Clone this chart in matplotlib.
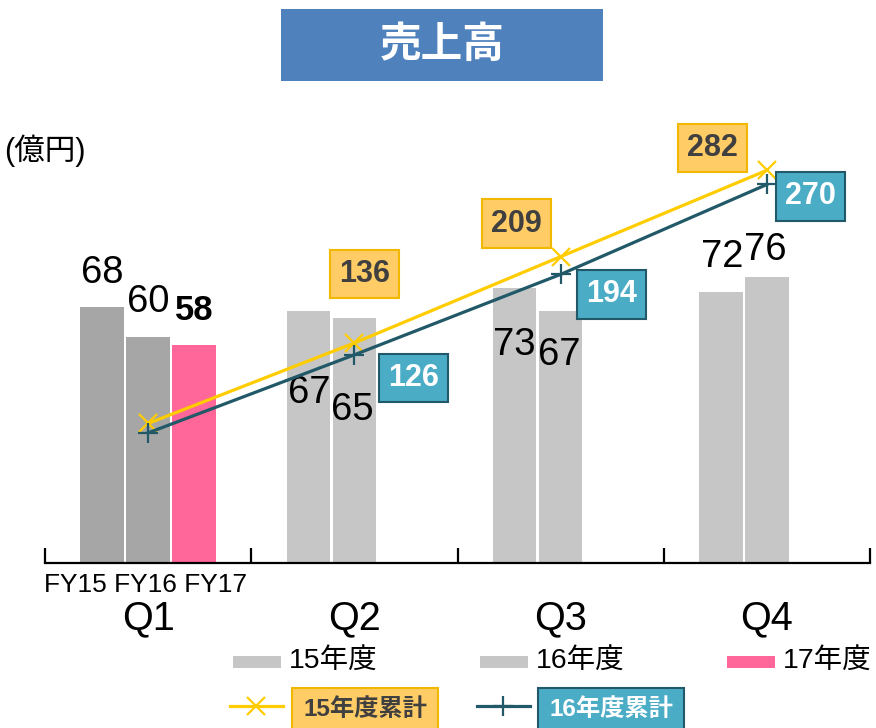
import matplotlib.pyplot as plt
import matplotlib.patches as mpatches
from matplotlib.lines import Line2D
import numpy as np

# data
quarters = ['Q1', 'Q2', 'Q3', 'Q4']
fy15 = [68, 67, 73, 72]
fy16 = [60, 65, 67, 76]
fy17 = [58, np.nan, np.nan, np.nan]
cum15 = [68, 136, 209, 282]
cum16 = [60, 126, 194, 270]

FONT = ['Liberation Sans', 'Noto Sans CJK JP']
JP = ['Noto Sans CJK JP', 'Liberation Sans']
plt.rcParams['font.family'] = FONT

W, H = 876, 728
def fx(x): return x / W
def fy(y): return 1 - y / H

fig = plt.figure(figsize=(W / 100, H / 100), dpi=100)
ax = fig.add_axes([fx(45), 165 / H, 825 / W, 414 / H])

x = np.arange(len(quarters))
off, bw = 0.223, 0.21
c15 = ['#a6a6a6'] + ['#c6c6c6'] * 3
c16 = ['#a6a6a6'] + ['#c6c6c6'] * 3
b15 = ax.bar(x - off, fy15, bw, color=c15, zorder=2)
b16 = ax.bar(x, fy16, bw, color=c16, zorder=2)
b17 = ax.bar(x + off, fy17, bw, color='#ff6699', zorder=2)
ax.set_xlim(-0.5, 3.5)
ax.set_ylim(0, 110)

for s in ['top', 'right', 'left']:
    ax.spines[s].set_visible(False)
ax.spines['bottom'].set_linewidth(1.6)
ax.set_yticks([])
ax.set_xticks(x)
ax.set_xticklabels(quarters, fontsize=28.5)
ax.tick_params(axis='x', which='major', length=0, pad=26)
ax.set_xticks(np.arange(-0.5, 4.0, 1.0), minor=True)
ax.tick_params(axis='x', which='minor', direction='in', length=11, width=1.6)

# bar value labels (pixel offsets from bar tops)
lab15 = [(0, 34), (1, -82), (0, -57), (1, 35)]
lab16 = [(0, 35), (-2, -92), (-1, -44), (-2, 27)]
for i in range(4):
    ax.annotate(str(fy15[i]), (x[i] - off, fy15[i]), xytext=lab15[i],
                textcoords='offset pixels', ha='center', va='center', fontsize=27.5, zorder=5)
    ax.annotate(str(fy16[i]), (x[i], fy16[i]), xytext=lab16[i],
                textcoords='offset pixels', ha='center', va='center', fontsize=27.5, zorder=5)
ax.annotate(str(fy17[0]), (x[0] + off, fy17[0]), xytext=(0, 34),
            textcoords='offset pixels', ha='center', va='center', fontsize=25,
            fontweight='bold', zorder=5)

ax.annotate('FY15 FY16 FY17', (0, 0), xycoords=('data', 'axes fraction'),
            xytext=(-3, -22), textcoords='offset pixels', ha='center', va='center',
            fontsize=19)

# cumulative lines
ax2 = ax.twinx()
ax2.set_ylim(-50, 300)
ax2.axis('off')
yel, teal = '#ffcc00', '#215968'
ax2.plot(x, cum15, color=yel, lw=2.3, marker='x', ms=13, mew=1.6, zorder=3)
ax2.plot(x, cum16, color=teal, lw=2.3, marker='+', ms=14, mew=1.6, zorder=3)

ybox = dict(boxstyle='square,pad=0.3', fc='#ffcc66', ec='#f2b800', lw=1.5)
tbox = dict(boxstyle='square,pad=0.3', fc='#4bacc6', ec='#215968', lw=1.5)
off15 = [None, (10, 69), (-44, 33), (-54, 22)]
off16 = [None, (59, -23), (51, -20), (44, -12)]
for i in range(1, 4):
    ax2.annotate(str(cum15[i]), (x[i], cum15[i]), xytext=off15[i], textcoords='offset pixels',
                 ha='center', va='center', fontsize=22, fontweight='bold', color='#404040',
                 bbox=ybox, zorder=6)
    ax2.annotate(str(cum16[i]), (x[i], cum16[i]), xytext=off16[i], textcoords='offset pixels',
                 ha='center', va='center', fontsize=22, fontweight='bold', color='white',
                 bbox=tbox, zorder=6)

# title box
fig.patches.append(mpatches.Rectangle((fx(281), fy(81)), 322 / W, 72 / H,
                                      transform=fig.transFigure, fc='#4f81bd', ec='none'))
fig.text(fx(442), fy(45), '売上高', ha='center', va='center', fontsize=30,
         fontweight='bold', color='white', family=JP)
fig.text(fx(4), fy(151), '(億円)', ha='left', va='center', fontsize=22, family=FONT)

# legend
legend_bars = [('15年度', '#c6c6c6', 233), ('16年度', '#c6c6c6', 480), ('17年度', '#ff6699', 727)]
for lab, col, px in legend_bars:
    fig.patches.append(mpatches.Rectangle((fx(px), fy(668)), 48 / W, 12 / H,
                                          transform=fig.transFigure, fc=col, ec='none'))
    fig.text(fx(px + 56), fy(662), lab, ha='left', va='center', fontsize=20.5, family=FONT)

fig.lines.append(Line2D([fx(230), fx(283)], [fy(706), fy(706)], transform=fig.transFigure,
                        color=yel, lw=2.3))
fig.lines.append(Line2D([fx(256)], [fy(706)], transform=fig.transFigure,
                        color=yel, lw=0, marker='x', ms=13, mew=1.6))
fig.text(fx(365), fy(710), '15年度累計', ha='center', va='center', fontsize=17.5,
         fontweight='bold', color='#404040', family=FONT,
         bbox=dict(boxstyle='square,pad=0.45', fc='#ffcc66', ec='#f2b800', lw=1.5))
fig.lines.append(Line2D([fx(477), fx(530)], [fy(706), fy(706)], transform=fig.transFigure,
                        color=teal, lw=2.3))
fig.lines.append(Line2D([fx(503)], [fy(706)], transform=fig.transFigure,
                        color=teal, lw=0, marker='+', ms=14, mew=1.6))
fig.text(fx(611), fy(710), '16年度累計', ha='center', va='center', fontsize=17.5,
         fontweight='bold', color='white', family=FONT,
         bbox=dict(boxstyle='square,pad=0.45', fc='#4bacc6', ec='#215968', lw=1.5))

plt.savefig('out.png', dpi=100)
